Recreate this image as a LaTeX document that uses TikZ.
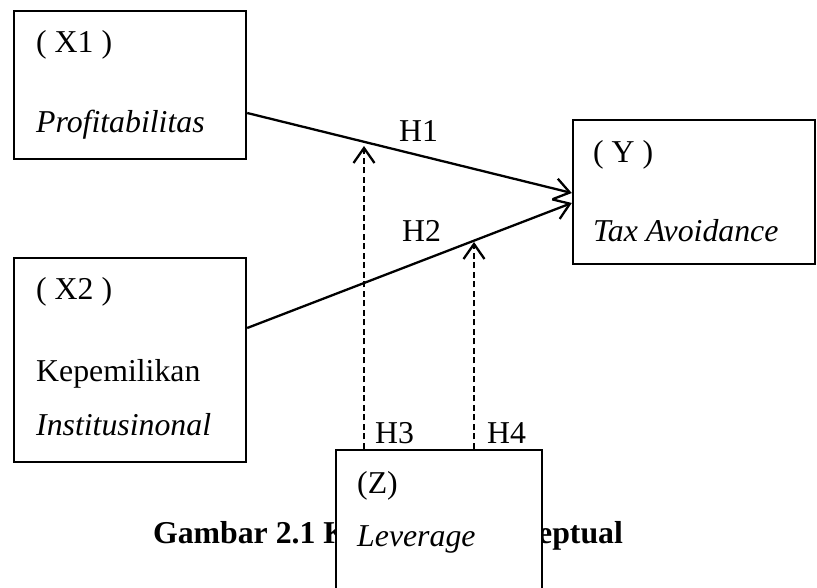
\documentclass[tikz,border=0pt]{standalone}
\usepackage{fontspec}
\setmainfont{Liberation Serif}
\usetikzlibrary{arrows.meta}
\begin{document}
\begin{tikzpicture}[x=1pt,y=-1pt,
  box/.style={draw, line width=2.4pt, inner sep=0pt, fill=white},
  txt/.style={anchor=base west, inner sep=0pt, font=\fontsize{31.8}{38}\selectfont},
  hlab/.style={txt},
  link/.style={line width=2.3pt, -{Straight Barb[length=15pt,width=21pt,line width=2.3pt]}},
  modarrow/.style={link, dash pattern=on 6pt off 3.5pt}]
\clip (0,0) rectangle (817,588);
% boxes
\node[box, minimum width=232, minimum height=148] (x1) at (130,85) {};
\node[box, minimum width=232, minimum height=204] (x2) at (130,360) {};
\node[box, minimum width=242, minimum height=144] (yb) at (694,192) {};
% texts
\node[txt] (t1a) at (36,53) {( X1 )};
\node[txt] (t1b) at (36,133) {\textit{Profitabilitas}};
\node[txt] (t2a) at (36,300) {( X2 )};
\node[txt] (t2b) at (36,381) {Kepemilikan};
\node[txt] (t2c) at (36,435) {\textit{Institusinonal}};
\node[txt] (tya) at (593,163) {( Y )};
\node[txt] (tyb) at (593,242) {\textit{Tax Avoidance}};
% labels
\node[hlab] (h1) at (399,142) {H1};
\node[hlab] (h2) at (402,242) {H2};
\node[hlab] (h3) at (375,443) {H3};
\node[hlab] (h4) at (487,443) {H4};
% caption
\node[anchor=base, inner sep=0pt, font=\fontsize{31.8}{38}\selectfont\bfseries] (cap) at (388,543) {Gambar 2.1 Kerangka Konseptual};
% moderator box
\node[box, minimum width=206, minimum height=250] (zb) at (439,575) {};
\node[txt] (tza) at (357,493) {(Z)};
\node[txt] (tzb) at (357,546) {\textit{Leverage}};
% connectors
\coordinate (m1) at (364,146);
\coordinate (m2) at (474,242);
\draw[link] ([yshift=-28pt]x1.east) -- ([yshift=-1pt]yb.west);
\draw[link] ([yshift=32pt]x2.east) -- ([yshift=-11pt]yb.west);
\draw[modarrow] ([xshift=-75pt]zb.north) -- (m1);
\draw[modarrow] ([xshift=35pt]zb.north) -- (m2);
\end{tikzpicture}
\end{document}
